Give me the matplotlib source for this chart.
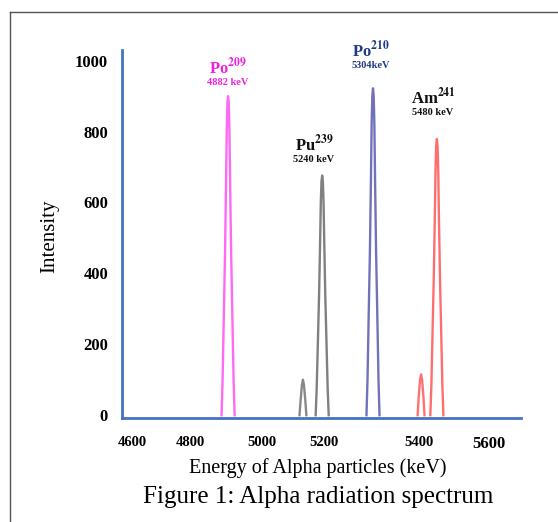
import matplotlib
matplotlib.use("Agg")
import matplotlib.pyplot as plt
from matplotlib.lines import Line2D

plt.rcParams['font.family'] = ['Liberation Serif', 'DejaVu Serif']
plt.rcParams['mathtext.fontset'] = 'stix'

# peak outlines (energy in keV, intensity)
po209_e = [4863, 4866, 4870, 4873, 4876, 4878, 4880, 4882, 4884, 4886, 4888, 4891, 4894, 4898, 4901]
po209_i = [0, 100, 300, 450, 650, 800, 880, 900, 880, 800, 650, 450, 300, 100, 0]

pu239_small_e = [5090, 5093, 5097, 5100, 5103, 5107, 5110]
pu239_small_i = [0, 40, 85, 100, 85, 40, 0]
pu239_e = [5137, 5140, 5144, 5147, 5150, 5152, 5154, 5156, 5158, 5160, 5162, 5165, 5168, 5172, 5175]
pu239_i = [0, 75, 225, 340, 490, 600, 660, 676, 660, 600, 490, 340, 225, 75, 0]

po210_e = [5285, 5288, 5292, 5295, 5298, 5300, 5302, 5304, 5306, 5308, 5310, 5313, 5316, 5320, 5323]
po210_i = [0, 100, 310, 460, 665, 820, 900, 922, 900, 820, 665, 460, 310, 100, 0]

am241_small_e = [5434, 5437, 5441, 5444, 5447, 5451, 5454]
am241_small_i = [0, 50, 100, 115, 100, 50, 0]
am241_e = [5471, 5474, 5478, 5481, 5484, 5486, 5488, 5490, 5492, 5494, 5496, 5499, 5502, 5506, 5509]
am241_i = [0, 85, 260, 390, 560, 690, 760, 779, 760, 690, 560, 390, 260, 85, 0]

# tick labels as they sit in the original (uneven spacing)
xtick_pos = [4603, 4771, 4981, 5161, 5438, 5642]
xtick_labels = ['4600', '4800', '5000', '5200', '5400', '5600']
ytick_vals = [0, 200, 400, 600, 800, 1000]

fig = plt.figure(figsize=(5.58, 5.22), dpi=100)
ax = fig.add_axes([0.2186, 0.1992, 0.7151, 0.7050])

peaks = [
    (po209_e, po209_i, '#ff22ee'),
    (pu239_small_e, pu239_small_i, '#505050'),
    (pu239_e, pu239_i, '#444444'),
    (po210_e, po210_i, '#30309a'),
    (am241_small_e, am241_small_i, '#ff3030'),
    (am241_e, am241_i, '#ff2a2a'),
]
for e, i, c in peaks:
    ax.plot(e, i, color=c, lw=1.7, alpha=0.68)

ax.set_xlim(4573, 5735)
ax.set_ylim(-8, 1030)

for s in ['top', 'right']:
    ax.spines[s].set_visible(False)
for s in ['left', 'bottom']:
    ax.spines[s].set_color('#4472c4')
    ax.spines[s].set_linewidth(2)

ax.set_xticks(xtick_pos)
ax.set_xticklabels(xtick_labels, fontsize=10.5, fontweight='bold')
ax.get_xticklabels()[-1].set_fontsize(12)
ax.set_yticks(ytick_vals)
ax.set_yticklabels([str(v) for v in ytick_vals], fontsize=12, fontweight='bold')
ax.tick_params(axis='x', length=0, pad=13)
ax.tick_params(axis='y', length=0, pad=10)

# peak labels
labels = [
    (4882, 980, 937, r'Po$^{\mathbf{209}}$', '4882 keV', '#ee22dd'),
    (5298, 1030, 987, r'Po$^{\mathbf{210}}$', '5304keV', '#1f3a80'),
    (5132, 765, 722, r'Pu$^{\mathbf{239}}$', '5240 keV', '#111111'),
    (5479, 897, 854, r'Am$^{\mathbf{241}}$', '5480 keV', '#111111'),
]
for x, y1, y2, name, energy, c in labels:
    ax.text(x, y1, name, color=c, fontsize=12, fontweight='bold',
            ha='center', va='center', clip_on=False)
    ax.text(x, y2, energy, color=c, fontsize=7.5, fontweight='bold',
            ha='center', va='center', clip_on=False)

fig.text(0.570, 0.103, 'Energy of Alpha particles (keV)', fontsize=14.5,
         ha='center', va='center')
fig.text(0.090, 0.548, 'Intensity', fontsize=15, rotation=90,
         ha='center', va='center')
fig.text(0.570, 0.048, 'Figure 1: Alpha radiation spectrum', fontsize=18,
         ha='center', va='center')

# page frame
fig.add_artist(Line2D([0.018, 1.0], [0.977, 0.977], color='#555555', lw=1,
                      transform=fig.transFigure))
fig.add_artist(Line2D([0.018, 0.018], [0.0, 0.977], color='#555555', lw=1,
                      transform=fig.transFigure))

fig.savefig('out.png', dpi=100)
